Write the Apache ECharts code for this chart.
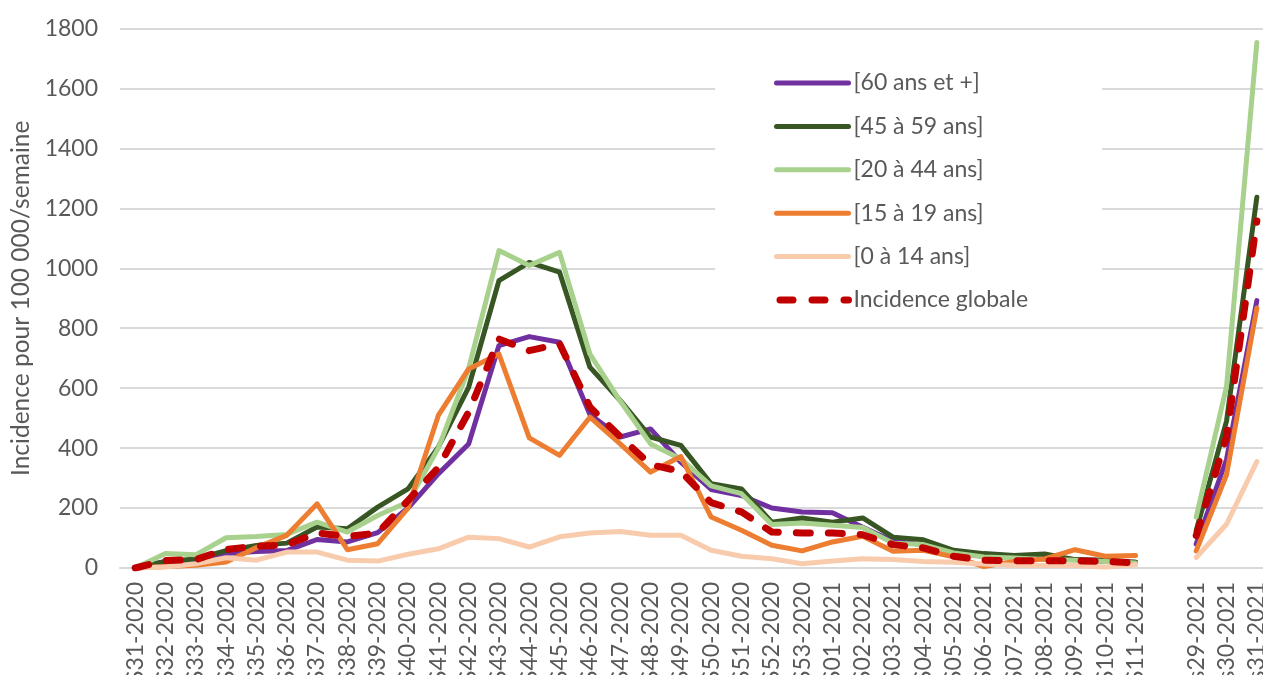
<!DOCTYPE html>
<html>
<head>
<meta charset="utf-8">
<script src="https://cdn.jsdelivr.net/npm/echarts@6/dist/echarts.min.js"></script>
<style>
html,body{margin:0;padding:0;background:#fff;}
#chart{width:1263px;height:675px;}
</style>
</head>
<body>
<div id="chart"></div>
<script>
const categories = ['S31-2020','S32-2020','S33-2020','S34-2020','S35-2020','S36-2020','S37-2020','S38-2020','S39-2020','S40-2020','S41-2020','S42-2020','S43-2020','S44-2020','S45-2020','S46-2020','S47-2020','S48-2020','S49-2020','S50-2020','S51-2020','S52-2020','S53-2020','S01-2021','S02-2021','S03-2021','S04-2021','S05-2021','S06-2021','S07-2021','S08-2021','S09-2021','S10-2021','S11-2021','','s29-2021','s30-2021','s31-2021'];

const age60plus  = [0, 22, 25, 48, 55, 58, 95, 87, 118, 200, 314, 414, 742, 772, 753, 512, 437, 464, 353, 262, 242, 200, 187, 184, 136, 89, 78, 56, 44, 39, 33, 28, 22, 19, null, 80, 362, 892];
const age45to59  = [0, 22, 30, 58, 75, 83, 137, 131, 203, 264, 403, 603, 959, 1020, 987, 670, 559, 437, 409, 281, 264, 153, 167, 153, 167, 103, 94, 59, 48, 42, 47, 28, 26, 19, null, 125, 490, 1237];
const age20to44  = [0, 48, 44, 101, 105, 112, 153, 120, 175, 220, 400, 665, 1059, 1009, 1053, 714, 557, 414, 364, 274, 248, 145, 150, 143, 135, 83, 78, 50, 37, 33, 28, 26, 22, 17, null, 170, 605, 1753];
const age15to19  = [0, 5, 9, 20, 68, 109, 214, 61, 81, 200, 509, 664, 714, 434, 376, 503, 414, 320, 372, 170, 126, 76, 57, 87, 106, 56, 59, 37, 5, 22, 30, 61, 39, 42, null, 57, 311, 867];
const age0to14   = [0, 3, 14, 34, 26, 53, 53, 26, 23, 46, 64, 103, 98, 70, 104, 117, 122, 109, 109, 59, 39, 31, 14, 23, 31, 28, 22, 19, 13, 9, 8, 8, 3, 11, null, 35, 146, 355];
const globale    = [0, 25, 28, 62, 73, 77, 117, 105, 117, 225, 335, 520, 764, 725, 748, 537, 438, 345, 322, 218, 187, 120, 117, 117, 111, 78, 67, 39, 26, 24, 24, 24, 22, 17, null, 108, 438, 1158];

const seriesNames = ['[60 ans et +]','[45 à 59 ans]','[20 à 44 ans]','[15 à 19 ans]','[0 à 14 ans]','Incidence globale'];
const colors = ['#7030A0','#375623','#A9D18E','#ED7D31','#F8CBAD','#C00000'];
const yTicks = {min:0, max:1800, interval:200};

const FONT = 'Lato';
const TXT = '#595959';
const SOLID_W = 5;
const DASH_W = 7;
const DASH = [14,18];

function solid(name, data, color){
  return {
    name, type:'line', data, symbol:'none', connectNulls:false,
    lineStyle:{color, width:SOLID_W, cap:'round', join:'round'},
    itemStyle:{color},
    emphasis:{disabled:true}
  };
}

const legendData = seriesNames.map((n,i)=>({
  name:n,
  itemStyle:{opacity:0},
  lineStyle: i===5
    ? {color:colors[i], width:DASH_W, type:[13,19], dashOffset:-3.5, cap:'round'}
    : {color:colors[i], width:SOLID_W, type:'solid', cap:'round'}
}));

const chart = echarts.init(document.getElementById('chart'), null, {renderer:'canvas'});
chart.setOption({
  animation:false,
  backgroundColor:'#ffffff',
  textStyle:{fontFamily:FONT},
  grid:{left:120, top:28.5, width:1152, height:539.5, containLabel:false, outerBoundsMode:'none'},
  legend:{
    left:715, top:40,
    orient:'vertical',
    backgroundColor:'#ffffff',
    padding:[30,74,8,58],
    itemWidth:72, itemHeight:14, itemGap:17.4,
    itemStyle:{opacity:0},
    textStyle:{fontFamily:FONT, fontSize:23, color:TXT, lineHeight:26},
    data:legendData
  },
  xAxis:{
    type:'category', data:categories, boundaryGap:true,
    axisLine:{show:true, lineStyle:{color:'#d9d9d9', width:2}},
    axisTick:{show:false},
    axisLabel:{rotate:90, interval:0, margin:14, fontFamily:FONT, fontSize:23, color:TXT}
  },
  yAxis:{
    type:'value', min:yTicks.min, max:yTicks.max, interval:yTicks.interval,
    name:'Incidence pour 100 000/semaine', nameLocation:'middle', nameGap:85, nameRotate:90,
    nameTextStyle:{fontFamily:FONT, fontSize:24.5, color:TXT},
    axisLine:{show:false}, axisTick:{show:false},
    axisLabel:{margin:22, fontFamily:FONT, fontSize:23, color:TXT, formatter:function(v){return String(v);}},
    splitLine:{lineStyle:{color:'#d9d9d9', width:2}}
  },
  series:[
    solid(seriesNames[0], age60plus, colors[0]),
    solid(seriesNames[1], age45to59, colors[1]),
    solid(seriesNames[2], age20to44, colors[2]),
    solid(seriesNames[3], age15to19, colors[3]),
    solid(seriesNames[4], age0to14, colors[4]),
    {
      name:seriesNames[5], type:'line', data:globale, symbol:'none', connectNulls:false,
      lineStyle:{color:colors[5], width:DASH_W, type:DASH, cap:'round', join:'round'},
      itemStyle:{color:colors[5]},
      emphasis:{disabled:true}
    }
  ]
});
</script>
</body>
</html>
